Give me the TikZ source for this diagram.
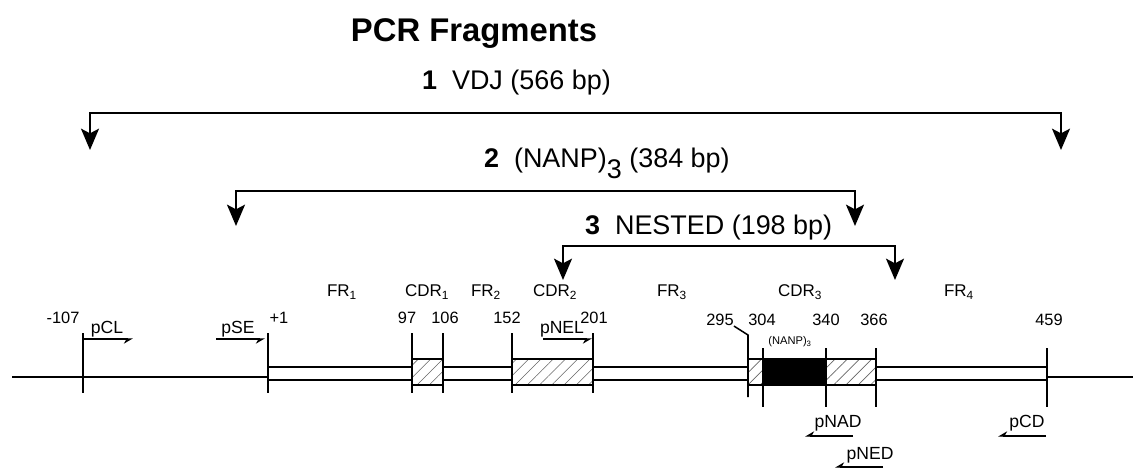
\documentclass[tikz,border=0pt]{standalone}
\usepackage{fontspec}
\setmainfont{Liberation Sans}
\usetikzlibrary{arrows.meta, positioning, patterns.meta}

\begin{document}
\begin{tikzpicture}[x=0.3mm, y=-0.3mm,
    frag/.style={line width=1.7pt, {Stealth[length=6.4mm, width=5.4mm, inset=1.4mm]}-{Stealth[length=6.4mm, width=5.4mm, inset=1.4mm]}},
    hdr/.style={font=\fontsize{23}{26}\selectfont, inner sep=0pt, anchor=base west},
    reg/.style={font=\fontsize{14.5}{16}\selectfont, inner sep=0pt},
    num/.style={font=\fontsize{14}{16}\selectfont, inner sep=0pt},
    prm/.style={font=\fontsize{15}{17}\selectfont, inner sep=0pt},
    pfw/.style={line width=1.1pt, -{Stealth[harpoon, swap, length=2.4mm, width=2.8mm]}},
    tick/.style={line width=1.3pt},
    dna/.style={line width=1.6pt},
    hatch/.style={draw, line width=1.1pt, preaction={fill=white},
        pattern={Lines[angle=45, distance=2.6mm, line width=0.5pt]}, pattern color=black!60},
    nanp/.style={draw, fill=black, line width=1.1pt}
  ]
    \useasboundingbox (0,0) rectangle (1133,471);

    % title and the three PCR products
    \node[font=\bfseries\fontsize{28}{32}\selectfont, inner sep=0pt, anchor=base] (title) at (474,42) {PCR Fragments};

    \node[hdr] (lab1) at (422,90)  {\textbf{1}\hspace{0.55em}VDJ (566 bp)};
    \node[hdr] (lab2) at (484,168) {\textbf{2}\hspace{0.55em}(NANP)\lower0.4em\hbox{3} (384 bp)};
    \node[hdr] (lab3) at (585,235) {\textbf{3}\hspace{0.55em}NESTED (198 bp)};

    \coordinate (f1L) at (90,150);  \coordinate (f1R) at (1061,150); \coordinate (f1bar) at (575,113);
    \coordinate (f2L) at (236,226); \coordinate (f2R) at (855,226);  \coordinate (f2bar) at (545,191);
    \coordinate (f3L) at (563,280); \coordinate (f3R) at (895,280);  \coordinate (f3bar) at (730,246);
    \foreach \f in {1,2,3} { \draw[frag] (f\f L) |- (f\f bar) -| (f\f R); }

    % gene map: flanks, coding band, CDR boxes
    \draw[dna] (12,377) -- (268,377);
    \draw[dna] (1047,377) -- (1133,377);
    \draw[dna] (268,367) -- (1047,367) (268,380) -- (1047,380);
    \draw[hatch] (412,359) rectangle (443,385);
    \draw[hatch] (512,359) rectangle (593,385);
    \draw[hatch] (748,359) rectangle (763,385);
    \draw[nanp]  (763,359) rectangle (826,385);
    \draw[hatch] (826,359) rectangle (876,385);

    \foreach \x in {83,268,412,443,512,593} { \draw[tick] (\x,333) -- (\x,393); }
    \foreach \x in {763,826,876,1047} { \draw[tick] (\x,348) -- (\x,407); }

    % region names
    \foreach \x/\t/\s in {342/FR/1, 427/CDR/1, 486/FR/2, 555/CDR/2, 672/FR/3, 800/CDR/3, 959/FR/4}
      { \node[reg] (r\t\s) at (\x,292) {\t\textsubscript{\s}}; }

    % positions
    \foreach \x/\y/\t/\nm in {63/318/-107/m107, 279/318/+1/p1, 407/318/97/n97, 445/318/106/n106,
        507/318/152/n152, 594/318/201/n201, 720/320/295/n295, 762/320/304/n304,
        826/320/340/n340, 874/320/366/n366, 1049/320/459/n459}
      { \node[num] (\nm) at (\x,\y) {\t}; }
    \coordinate (k295) at (748,397);
    \draw[tick] (n295.south east) -- (748,335) -- (k295);
    \node[font=\fontsize{9.5}{11}\selectfont, inner sep=0pt] (nanplab) at (790,342) {(NANP)\textsubscript{3}};

    % primers
    \node[prm] (pCL)  at (107,329) {pCL};
    \node[prm] (pSE)  at (238,329) {pSE};
    \node[prm] (pNEL) at (562,329) {pNEL};
    \node[prm] (pNAD) at (838,423) {pNAD};
    \node[prm] (pNED) at (870,455) {pNED};
    \node[prm] (pCD)  at (1027,423) {pCD};
    \coordinate (aCL) at (83,339);   \coordinate (bCL) at (133,339);
    \coordinate (aSE) at (216,339);  \coordinate (bSE) at (265,339);
    \coordinate (aNEL) at (543,339); \coordinate (bNEL) at (592,339);
    \coordinate (aNAD) at (853,436); \coordinate (bNAD) at (805,436);
    \coordinate (aNED) at (883,467); \coordinate (bNED) at (835,467);
    \coordinate (aCD) at (1046,436); \coordinate (bCD) at (998,436);
    \foreach \p in {CL,SE,NEL,NAD,NED,CD} { \draw[pfw] (a\p) -- (b\p); }
\end{tikzpicture}
\end{document}
